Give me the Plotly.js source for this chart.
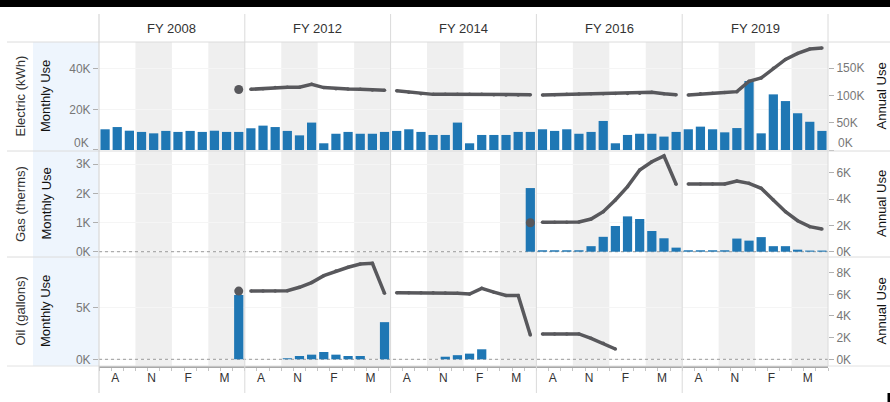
<!DOCTYPE html>
<html>
<head>
<meta charset="utf-8">
<script src="https://cdn.plot.ly/plotly-3.0.1.min.js"></script>
<style>
html,body{margin:0;padding:0;background:#fff;}
#chart{width:890px;height:402px;}
</style>
</head>
<body>
<div id="chart"></div>
<script>
// ---------------- DATA ----------------
const fiscalYears = ['FY 2008', 'FY 2012', 'FY 2014', 'FY 2016', 'FY 2019'];
const months = ['Jul','Aug','Sep','Oct','Nov','Dec','Jan','Feb','Mar','Apr','May','Jun'];
const tickMonths = ['Aug','Nov','Feb','May'];
const tickLabels = ['A','N','F','M'];
const utilityLabels = ['Electric (kWh)', 'Gas (therms)', 'Oil (gallons)'];

// Electric (kWh) – monthly use, one row per fiscal year (Jul..Jun)
const elecMonthly = [
  [10200, 11300, 9500, 8900, 8200, 9400, 8900, 9400, 8900, 9500, 8900, 8900],
  [10700, 12000, 11300, 9400, 7200, 13500, 3300, 8000, 8900, 8000, 8000, 8900],
  [9400, 10200, 8900, 7400, 7400, 13500, 3300, 7400, 7400, 7400, 8900, 8900],
  [10200, 9400, 10200, 8000, 8900, 14300, 3300, 7400, 8000, 8000, 6600, 8900],
  [10200, 11500, 10200, 8700, 10800, 34000, 8200, 27400, 24100, 18100, 13900, 9400]
];
// Electric (kWh) – annual use
const elecAnnual = [
  [null, null, null, null, null, null, null, null, null, null, null, 111000],
  [111300, 112500, 114400, 115000, 115000, 120500, 114400, 112500, 111900, 111300, 110000, 109500],
  [108500, 106000, 103000, 102000, 102000, 102000, 102000, 102000, 101500, 101000, 101000, 101500],
  [101000, 101500, 102000, 102500, 103000, 103000, 103500, 103500, 104000, 106000, 103000, 101500],
  [101000, 103000, 104000, 105500, 107000, 126000, 132000, 150000, 166000, 177000, 185000, 187000]
];
// Gas (therms) – monthly use
const gasMonthly = [
  [null, null, null, null, null, null, null, null, null, null, null, null],
  [null, null, null, null, null, null, null, null, null, null, null, null],
  [null, null, null, null, null, null, null, null, null, null, null, 2180],
  [50, 50, 50, 50, 190, 510, 880, 1210, 1120, 710, 460, 140],
  [50, 50, 50, 50, 450, 380, 500, 190, 190, 70, 40, 40]
];
// Gas (therms) – annual use
const gasAnnual = [
  [null, null, null, null, null, null, null, null, null, null, null, null],
  [null, null, null, null, null, null, null, null, null, null, null, null],
  [null, null, null, null, null, null, null, null, null, null, null, 2200],
  [2230, 2230, 2230, 2250, 2480, 3040, 3930, 4940, 6200, 6830, 7270, 5120],
  [5140, 5140, 5140, 5140, 5370, 5190, 4810, 3930, 3040, 2350, 1900, 1720]
];
// Oil (gallons) – monthly use
const oilMonthly = [
  [null, null, null, null, null, null, null, null, null, null, null, 6230],
  [null, null, null, 100, 320, 450, 710, 450, 320, 320, null, 3600],
  [null, null, null, null, 250, 400, 550, 970, null, null, null, null],
  [null, null, null, null, null, null, null, null, null, null, null, null],
  [null, null, null, null, null, null, null, null, null, null, null, null]
];
// Oil (gallons) – annual use
const oilAnnual = [
  [null, null, null, null, null, null, null, null, null, null, null, 6300],
  [6300, 6300, 6300, 6330, 6650, 7080, 7720, 8150, 8500, 8800, 8860, 6090],
  [6150, 6150, 6150, 6150, 6130, 6100, 6030, 6550, 6200, 5900, 5900, 2250],
  [2340, 2340, 2340, 2340, 1940, 1480, 950, null, null, null, null, null],
  [null, null, null, null, null, null, null, null, null, null, null, null]
];

// Axis tick values / labels
const elecLeftTicks = [0, 20000, 40000];
const elecLeftText = ['', '20K', '40K'];
const elecRightTicks = [0, 50000, 100000, 150000];
const elecRightText = ['', '50K', '100K', '150K'];
const elecZeroLabel = '0K';
const gasLeftTicks = [0, 1000, 2000, 3000];
const gasLeftText = ['0K', '1K', '2K', '3K'];
const gasRightTicks = [0, 2000, 4000, 6000];
const gasRightText = ['0K', '2K', '4K', '6K'];
const oilLeftTicks = [0, 5000];
const oilLeftText = ['0K', '5K'];
const oilRightTicks = [0, 2000, 4000, 6000, 8000];
const oilRightText = ['0K', '2K', '4K', '6K', '8K'];

// ---------------- LAYOUT GEOMETRY ----------------
const W = 890, H = 402;
const L = 99, R = 828, T = 42, B = 366;
const PW = R - L, PH = B - T;
const px2x = p => (p - L) / PW;
const px2y = p => (B - p) / PH;
const rowEdges = [42, 151, 257, 366];
const nFY = fiscalYears.length, nM = months.length;
const xMax = nFY * nM;

const BAR = '#1f77b4';
const LINE = '#58585c';
const FONT = 'Arial, "Liberation Sans", sans-serif';

const rows = [
  {monthly: elecMonthly, annual: elecAnnual, yL: 'y', yR: 'y2',
   rangeL: [-500, 53200], rangeR: [-1800, 198000],
   lt: elecLeftTicks, ltx: elecLeftText, rt: elecRightTicks, rtx: elecRightText},
  {monthly: gasMonthly, annual: gasAnnual, yL: 'y3', yR: 'y4',
   rangeL: [-181, 3449], rangeR: [-402, 7646],
   lt: gasLeftTicks, ltx: gasLeftText, rt: gasRightTicks, rtx: gasRightText},
  {monthly: oilMonthly, annual: oilAnnual, yL: 'y5', yR: 'y6',
   rangeL: [-649, 9913], rangeR: [-619, 9446],
   lt: oilLeftTicks, ltx: oilLeftText, rt: oilRightTicks, rtx: oilRightText}
];

const traces = [];
rows.forEach(r => {
  for (let k = 0; k < nFY; k++) {
    const xs = months.map((m, i) => k * nM + i + 0.5);
    const mv = r.monthly[k];
    if (mv.some(v => v !== null)) {
      traces.push({type: 'bar', x: xs, y: mv, xaxis: 'x', yaxis: r.yL,
        width: 0.76, marker: {color: BAR, line: {width: 0}}, hoverinfo: 'skip'});
    }
  }
});
rows.forEach(r => {
  for (let k = 0; k < nFY; k++) {
    const xs = months.map((m, i) => k * nM + i + 0.5);
    const av = r.annual[k];
    const n = av.filter(v => v !== null).length;
    if (n > 0) {
      traces.push({type: 'scatter', mode: 'lines+markers', x: xs, y: av,
        xaxis: 'x', yaxis: r.yR, connectgaps: false,
        line: {color: LINE, width: 3.5},
        marker: {color: LINE, size: n === 1 ? 9 : 3.5},
        hoverinfo: 'skip'});
    }
  }
});

// ---------------- AXES ----------------
const tickFont = {family: FONT, size: 12, color: '#777'};
const layout = {
  width: W, height: H,
  margin: {l: L, r: W - R, t: T, b: H - B, pad: 0},
  paper_bgcolor: '#fff', plot_bgcolor: 'rgba(0,0,0,0)',
  showlegend: false, barmode: 'overlay',
  font: {family: FONT},
  xaxis: {
    domain: [0, 1], range: [0, xMax], anchor: 'y5', fixedrange: true,
    tickmode: 'array',
    tickvals: fiscalYears.flatMap((f, k) => tickMonths.map(m => k * nM + months.indexOf(m) + 0.5)),
    ticktext: fiscalYears.flatMap(() => tickLabels),
    ticks: '', ticklabelshift: -2,
    tickfont: {family: FONT, size: 12, color: '#333'},
    showline: true, linecolor: '#a8a8a8', linewidth: 1.5,
    showgrid: false, zeroline: false, automargin: false,
    minor: {tickmode: 'array', tickvals: Array.from({length: xMax + 1}, (_, i) => i),
            ticks: 'outside', ticklen: 3, tickcolor: '#c4c4c4', tickwidth: 1, showgrid: false}
  },
  shapes: [], annotations: []
};

rows.forEach((r, idx) => {
  const n = idx * 2 + 1;
  const leftName = n === 1 ? 'yaxis' : 'yaxis' + n;
  const rightName = 'yaxis' + (n + 1);
  const dom = [px2y(rowEdges[idx + 1]), px2y(rowEdges[idx])];
  layout[leftName] = {
    domain: dom, range: r.rangeL, anchor: 'x', side: 'left', fixedrange: true,
    tickmode: 'array', tickvals: r.lt, ticktext: r.ltx,
    ticks: 'outside', ticklen: 5, tickcolor: '#b0b0b0', tickfont: tickFont,
    showgrid: true, gridcolor: '#f5f5f5', gridwidth: 1,
    zeroline: false, showline: false, automargin: false
  };
  layout[rightName] = {
    overlaying: r.yL, range: r.rangeR, anchor: 'x', side: 'right', fixedrange: true,
    tickmode: 'array', tickvals: r.rt, ticktext: r.rtx,
    ticks: 'outside', ticklen: 5, tickcolor: '#b0b0b0', tickfont: tickFont,
    showgrid: false, zeroline: false, showline: false, automargin: false
  };
});

const S = layout.shapes, A = layout.annotations;
// screenshot black bar on top and small mark bottom-right
S.push({type: 'rect', xref: 'paper', yref: 'paper', x0: px2x(0), x1: px2x(W), y0: px2y(0), y1: px2y(7),
        fillcolor: '#000', line: {width: 0}, layer: 'above'});
S.push({type: 'rect', xref: 'paper', yref: 'paper', x0: px2x(887.5), x1: px2x(W), y0: px2y(393), y1: px2y(H),
        fillcolor: '#000', line: {width: 0}, layer: 'above'});
// light blue "Monthly Use" band
S.push({type: 'rect', xref: 'paper', yref: 'paper', x0: px2x(33), x1: px2x(98.5), y0: 0, y1: 1,
        fillcolor: '#eef5fd', line: {width: 0}, layer: 'below'});
// quarter shading bands (Oct-Dec and Apr-Jun)
for (let k = 0; k < nFY; k++) {
  [3, 9].forEach(q => {
    S.push({type: 'rect', xref: 'x', yref: 'paper', x0: k * nM + q, x1: k * nM + q + 3, y0: 0, y1: 1,
            fillcolor: '#efefef', line: {width: 0}, layer: 'below'});
  });
}
// horizontal separators
rowEdges.forEach((p, i) => {
  S.push({type: 'line', xref: 'paper', yref: 'paper', x0: px2x(7), x1: px2x(W), y0: px2y(p), y1: px2y(p),
          line: {color: i === 3 ? '#e2e2e2' : '#dcdcdc', width: 1}, layer: 'above'});
});
// vertical dividers between fiscal-year panes
for (let k = 0; k <= nFY; k++) {
  S.push({type: 'line', xref: 'paper', yref: 'paper', x0: k / nFY, x1: k / nFY,
          y0: k === nFY ? 0 : px2y(393), y1: px2y(14),
          line: {color: k === 0 ? '#cfcfcf' : '#dadada', width: 1}, layer: 'above'});
}
// dotted zero lines (gas, oil)
['y3', 'y5'].forEach(yr => {
  S.push({type: 'line', xref: 'x', yref: yr, x0: 0, x1: xMax, y0: 0, y1: 0,
          line: {color: '#9a9a9a', width: 1, dash: 'dot'}, layer: 'between'});
});

// electric "0K" labels, nudged up to stay inside the pane (as in the original)
A.push({xref: 'paper', yref: 'paper', x: px2x(91), y: px2y(143), text: elecZeroLabel, showarrow: false,
        font: tickFont, xanchor: 'right', yanchor: 'middle'});
A.push({xref: 'paper', yref: 'paper', x: px2x(836), y: px2y(143), text: elecZeroLabel, showarrow: false,
        font: tickFont, xanchor: 'left', yanchor: 'middle'});

// column headers
fiscalYears.forEach((f, k) => {
  A.push({xref: 'paper', yref: 'paper', x: (k + 0.5) / nFY, y: px2y(28), text: f, showarrow: false,
          font: {family: FONT, size: 13, color: '#333'}, xanchor: 'center', yanchor: 'middle'});
});
// row headers & axis titles
utilityLabels.forEach((u, i) => {
  const yc = px2y((rowEdges[i] + rowEdges[i + 1]) / 2);
  A.push({xref: 'paper', yref: 'paper', x: px2x(20), y: yc, text: u, textangle: -90, showarrow: false,
          font: {family: FONT, size: 13, color: '#333'}, xanchor: 'center', yanchor: 'middle'});
  A.push({xref: 'paper', yref: 'paper', x: px2x(45.5), y: yc, text: 'Monthly Use', textangle: -90, showarrow: false,
          font: {family: FONT, size: 13, color: '#111'}, xanchor: 'center', yanchor: 'middle'});
  A.push({xref: 'paper', yref: 'paper', x: px2x(881), y: yc, text: 'Annual Use', textangle: -90, showarrow: false,
          font: {family: FONT, size: 13, color: '#111'}, xanchor: 'center', yanchor: 'middle'});
});

Plotly.newPlot('chart', traces, layout, {displayModeBar: false, staticPlot: true});
</script>
</body>
</html>
